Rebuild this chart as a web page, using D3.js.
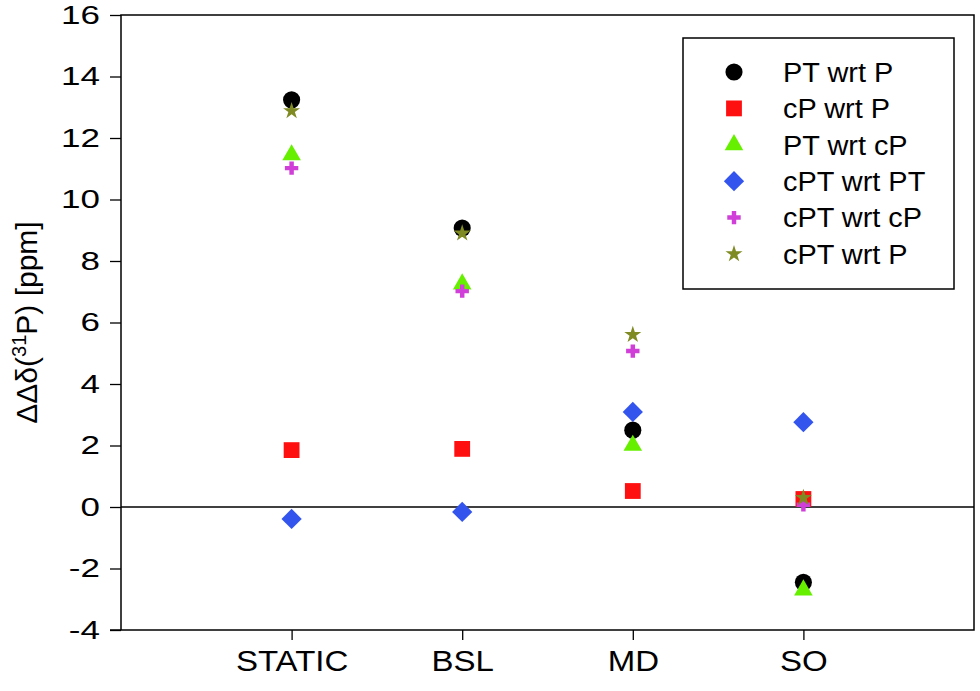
<!DOCTYPE html>
<html>
<head>
<meta charset="utf-8">
<script src="https://cdn.jsdelivr.net/npm/d3@7"></script>
<style>
  html, body { margin: 0; padding: 0; background: #fff; }
  text { font-family: "Liberation Sans", Arial, sans-serif; fill: #000; }
</style>
</head>
<body>
<svg id="chart" width="980" height="691"></svg>
<script>
const categories = ["STATIC", "BSL", "MD", "SO"];
const seriesNames = ["PT wrt P", "cP wrt P", "PT wrt cP", "cPT wrt PT", "cPT wrt cP", "cPT wrt P"];
const ptWrtP    = [13.24, 9.07, 2.50, -2.45];
const cpWrtP    = [1.85, 1.89, 0.52, 0.26];
const ptWrtCp   = [11.45, 7.25, 2.00, -2.70];
const cptWrtPt  = [-0.39, -0.16, 3.09, 2.76];
const cptWrtCp  = [11.02, 7.02, 5.07, 0.07];
const cptWrtP   = [12.88, 8.90, 5.60, 0.30];
const yTicks = [-4, -2, 0, 2, 4, 6, 8, 10, 12, 14, 16];

const seriesValues = [ptWrtP, cpWrtP, ptWrtCp, cptWrtPt, cptWrtCp, cptWrtP];
const styles = [
  { sym: d3.symbolCircle,   size: 230, color: "#000000", rot: 0 },
  { sym: d3.symbolSquare,   size: 250, color: "#ff1010", rot: 0 },
  { sym: d3.symbolTriangle, size: 150, color: "#66f000", rot: 0 },
  { sym: d3.symbolSquare,   size: 205, color: "#3355ee", rot: 45 },
  { sym: d3.symbolCross,    size: 100, color: "#d040d8", rot: 0 },
  { sym: d3.symbolStar,     size: 90,  color: "#7f8a22", rot: 0 }
];

const svg = d3.select("#chart");
const L = 121, R = 974, T = 15, B = 630;
const x = d3.scaleLinear().domain([0, 5]).range([L, R]);
const y = d3.scaleLinear().domain([-4, 16]).range([B, T]);

function stretch(sel, sx) {
  sel.each(function () {
    const t = d3.select(this);
    const x0 = +t.attr("x") || 0;
    t.attr("x", 0).attr("transform", `translate(${x0},0) scale(${sx},1)`);
  });
}

// frame
svg.append("rect").attr("x", L).attr("y", T).attr("width", R - L).attr("height", B - T)
  .attr("fill", "none").attr("stroke", "#000").attr("stroke-width", 1.5);

// zero line
svg.append("line").attr("x1", L).attr("x2", R).attr("y1", y(0)).attr("y2", y(0))
  .attr("stroke", "#000").attr("stroke-width", 1.5);

// y axis
const yAxis = d3.axisLeft(y).tickValues(yTicks).tickSize(11).tickPadding(10)
  .tickFormat(d => String(d));
const gy = svg.append("g").attr("transform", `translate(${L},0)`).call(yAxis);
gy.select(".domain").remove();
gy.selectAll(".tick line").attr("stroke", "#000").attr("stroke-width", 1.3);
gy.selectAll(".tick text").style("font-size", "25px").attr("fill", "#000");
stretch(gy.selectAll(".tick text"), 1.4);

// x axis
const xAxis = d3.axisBottom(x).tickValues([1, 2, 3, 4]).tickSize(10).tickPadding(10)
  .tickFormat(d => categories[d - 1]);
const gx = svg.append("g").attr("transform", `translate(0,${B})`).call(xAxis);
gx.select(".domain").remove();
gx.selectAll(".tick line").attr("stroke", "#000").attr("stroke-width", 1.3);
gx.selectAll(".tick text").style("font-size", "30px").attr("fill", "#000");
stretch(gx.selectAll(".tick text"), 1.1);
// small extension of bottom axis to the left
svg.append("line").attr("x1", L - 11).attr("x2", L).attr("y1", B).attr("y2", B)
  .attr("stroke", "#000").attr("stroke-width", 1.5);

// y label
const yl = svg.append("text")
  .attr("transform", `translate(37,${(T + B) / 2}) rotate(-90)`)
  .attr("text-anchor", "middle")
  .style("font-size", "30px");
yl.append("tspan").text("ΔΔδ(");
yl.append("tspan").text("31").style("font-size", "20px").attr("dy", "-11");
yl.append("tspan").text("P) [ppm]").attr("dy", "11");

// points
seriesValues.forEach((vals, si) => {
  const st = styles[si];
  svg.append("g").selectAll("path").data(vals).join("path")
    .attr("d", d3.symbol().type(st.sym).size(st.size))
    .attr("transform", (v, i) => `translate(${x(i + 1)},${y(v)}) rotate(${st.rot})`)
    .attr("fill", st.color);
});

// legend
const lg = svg.append("g");
lg.append("rect").attr("x", 683).attr("y", 38).attr("width", 271).attr("height", 251)
  .attr("fill", "#fff").attr("stroke", "#000").attr("stroke-width", 1.5);
seriesNames.forEach((name, i) => {
  const yy = 72 + i * 36.4;
  const st = styles[i];
  lg.append("path").attr("d", d3.symbol().type(st.sym).size(st.size))
    .attr("transform", `translate(734,${yy}) rotate(${st.rot})`).attr("fill", st.color);
  const t = lg.append("text").attr("x", 783).attr("y", yy).attr("dy", "0.36em")
    .style("font-size", "27px").text(name);
  stretch(t, 1.07);
});
</script>
</body>
</html>
